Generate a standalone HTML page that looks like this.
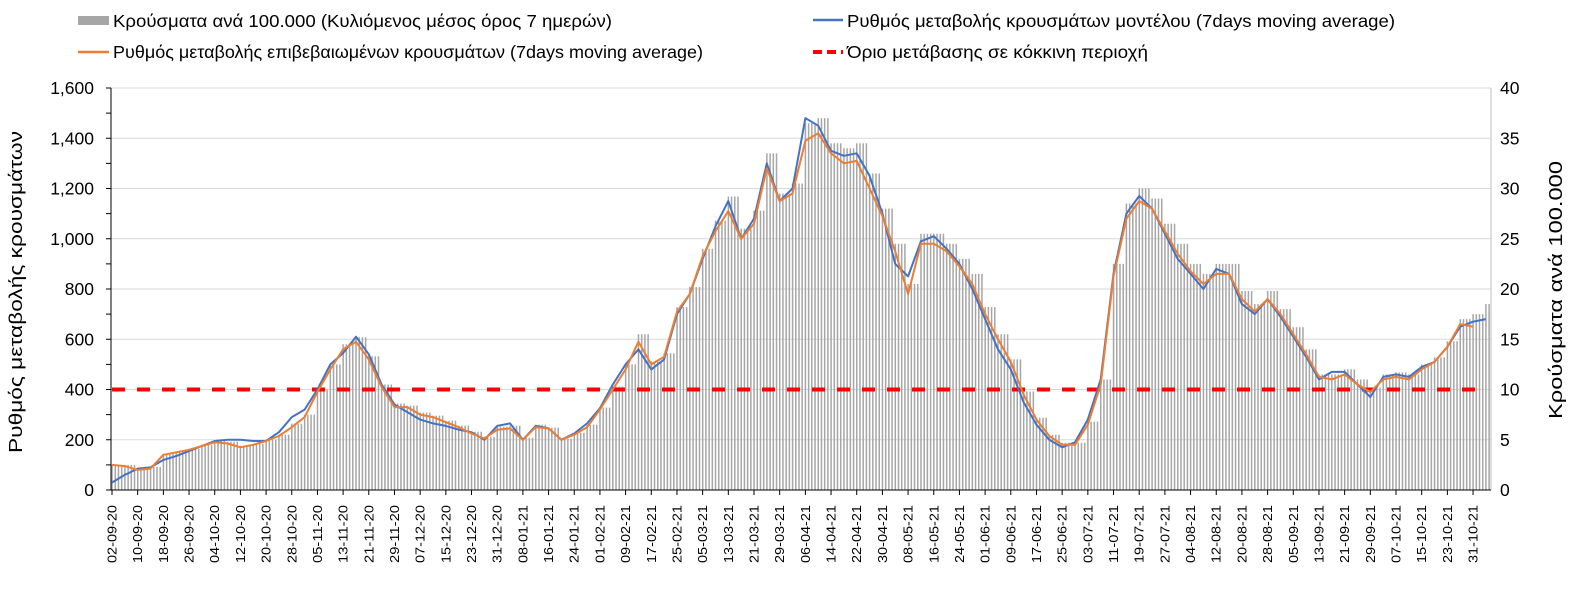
<!DOCTYPE html>
<html><head><meta charset="utf-8"><style>
body{margin:0;background:#fff;}
svg text{font-family:"Liberation Sans",sans-serif;fill:#000;}
</style></head><body>
<svg id="chart" width="1576" height="590" xmlns="http://www.w3.org/2000/svg">
<g id="legend">
 <g><rect x="78" y="16" width="31" height="9" fill="#a6a6a6"/><text x="113" y="27" font-size="17.5" textLength="499" lengthAdjust="spacingAndGlyphs">Κρούσματα ανά 100.000 (Κυλιόμενος μέσος όρος 7 ημερών)</text></g>
 <g><line x1="813" y1="20" x2="843" y2="20" stroke="#4472c4" stroke-width="2.5"/><text x="847" y="27" font-size="17.5" textLength="548" lengthAdjust="spacingAndGlyphs">Ρυθμός μεταβολής κρουσμάτων μοντέλου (7days moving average)</text></g>
 <g><line x1="78" y1="52" x2="109" y2="52" stroke="#ed7d31" stroke-width="2.5"/><text x="113" y="58" font-size="17.5" textLength="590" lengthAdjust="spacingAndGlyphs">Ρυθμός μεταβολής επιβεβαιωμένων κρουσμάτων (7days moving average)</text></g>
 <g><line x1="813" y1="52" x2="843" y2="52" stroke="#ff0000" stroke-width="4" stroke-dasharray="9,5"/><text x="847" y="58" font-size="17.5" textLength="301" lengthAdjust="spacingAndGlyphs">Όριο μετάβασης σε κόκκινη περιοχή</text></g>
</g>
<g id="grid"></g>
<g id="bars"></g>
<g id="lines"></g>
<g id="axes"></g>
<text transform="translate(22,292) rotate(-90)" text-anchor="middle" font-size="18" textLength="322" lengthAdjust="spacingAndGlyphs">Ρυθμός μεταβολής κρουσμάτων</text>
<text transform="translate(1562,290) rotate(-90)" text-anchor="middle" font-size="18" textLength="258" lengthAdjust="spacingAndGlyphs">Κρούσματα ανά 100.000</text>
</svg>
<script>
const stepDays = 4;
const modelRate = [30,60,85,90,120,135,155,175,195,200,200,195,195,230,290,320,400,500,545,610,540,420,340,310,280,265,255,240,230,200,255,265,200,255,245,200,225,265,325,420,500,560,480,520,700,780,920,1050,1150,1000,1080,1300,1150,1200,1480,1450,1350,1330,1340,1250,1100,900,850,990,1010,960,900,800,680,560,480,350,260,200,170,190,280,440,860,1100,1170,1120,1020,920,860,800,880,860,740,700,760,690,610,530,440,470,470,420,370,450,460,450,490,510,570,650,670,680];
const confirmedRate = [100,95,80,85,140,150,160,175,190,185,170,180,195,215,250,290,390,480,560,590,520,410,330,330,300,290,270,250,225,205,240,245,200,250,245,200,220,250,320,400,480,590,500,530,710,780,930,1030,1110,1000,1060,1280,1150,1180,1390,1420,1340,1300,1310,1200,1090,950,780,980,980,950,890,820,700,600,510,380,280,215,180,180,260,420,850,1080,1150,1120,1030,940,870,820,860,860,760,710,760,700,620,540,450,440,460,420,390,440,450,440,480,510,570,660,650,null];
const casesPer100k = [2.5,2.5,2.2,2.3,3.6,3.8,4.1,4.5,4.9,4.8,4.4,4.6,5,5.5,6.6,7.5,10,12.5,14.5,15.2,13.3,10.5,8.6,8.4,7.7,7.4,6.9,6.4,5.8,5.3,6.3,6.4,5.2,6.5,6.2,5.1,5.7,6.5,8.2,10.3,12.5,15.5,12.8,13.6,18.2,20.2,24,26.8,29.2,26,27.8,33.5,29.5,30.5,36.5,37,34.5,34,34.5,31.5,28,24.5,20.5,25.5,25.5,24.5,23,21.5,18.2,15.5,13,9.8,7.2,5.5,4.7,4.7,6.8,11,22.5,28.5,30,29,26.5,24.5,22.5,21.5,22.5,22.5,19.8,18.5,19.8,18,16.2,14,11.5,11.5,12,11,10.2,11.5,11.7,11.5,12.5,13.2,14.8,17,17.5,18.5];
const leftTicks = [0,200,400,600,800,1000,1200,1400,1600];
const rightTicks = [0,5,10,15,20,25,30,35,40];
const dateLabels = ["02-09-20","10-09-20","18-09-20","26-09-20","04-10-20","12-10-20","20-10-20","28-10-20","05-11-20","13-11-20","21-11-20","29-11-20","07-12-20","15-12-20","23-12-20","31-12-20","08-01-21","16-01-21","24-01-21","01-02-21","09-02-21","17-02-21","25-02-21","05-03-21","13-03-21","21-03-21","29-03-21","06-04-21","14-04-21","22-04-21","30-04-21","08-05-21","16-05-21","24-05-21","01-06-21","09-06-21","17-06-21","25-06-21","03-07-21","11-07-21","19-07-21","27-07-21","04-08-21","12-08-21","20-08-21","28-08-21","05-09-21","13-09-21","21-09-21","29-09-21","07-10-21","15-10-21","23-10-21","31-10-21"];
const redThreshold = 400;

const NS="http://www.w3.org/2000/svg";
const X0=112, PXD=3.21, Y0=490, YT=88, XR=1491;
const xDay=d=>X0+d*PXD;
const yL=v=>Y0-(v/1600)*(Y0-YT);
const yR=v=>Y0-(v/40)*(Y0-YT);
function mk(tag,attrs,parent){const e=document.createElementNS(NS,tag);for(const k in attrs)e.setAttribute(k,attrs[k]);parent.appendChild(e);return e;}
const grid=document.getElementById('grid'),bars=document.getElementById('bars'),lines=document.getElementById('lines'),axes=document.getElementById('axes');
leftTicks.forEach((t,i)=>{
 if(t>0){const g=mk('line',{x1:X0-1,x2:XR,y1:yL(t),y2:yL(t),stroke:'#d9d9d9','stroke-width':1},grid);
 
 }
 const tx=mk('text',{x:94,y:yL(t)+6,'text-anchor':'end','font-size':17.5},axes);tx.textContent=t.toLocaleString('en-US');
 
 
});
rightTicks.forEach(t=>{
 const tx=mk('text',{x:1500,y:yR(t)+6,'text-anchor':'start','font-size':17.5},axes);tx.textContent=t;
 
 
});
casesPer100k.forEach((v,i)=>{
 for(let k=0;k<stepDays;k++){
  const d=i*stepDays+k; if(d>429)break;
  const r=mk('rect',{x:xDay(d)-0.7,y:yR(v),width:1.5,height:Y0-yR(v),fill:'#a6a6a6'},bars);
  
  
 }
});
const th=mk('line',{x1:X0,x2:1482,y1:yL(redThreshold),y2:yL(redThreshold),stroke:'#ff0000','stroke-width':4,'stroke-dasharray':'13,12'},lines);


function path(arr,color,name){
 let d='';arr.forEach((v,i)=>{if(v==null)return;d+=(d?'L':'M')+xDay(i*stepDays).toFixed(1)+','+yL(v).toFixed(1);});
 const p=mk('path',{d:d,fill:'none',stroke:color,'stroke-width':2,'stroke-linejoin':'round'},lines);
 
 
}
path(modelRate,'#4472c4','model-rate-line');
path(confirmedRate,'#ed7d31','confirmed-rate-line');
mk('line',{x1:111,x2:111,y1:YT,y2:Y0,stroke:'#000','stroke-width':1},axes);
mk('line',{x1:XR,x2:XR,y1:YT,y2:Y0,stroke:'#bfbfbf','stroke-width':1},axes);
mk('line',{x1:111,x2:XR,y1:Y0,y2:Y0,stroke:'#000','stroke-width':1},axes);
for(let v=0;v<=1600;v+=100){mk('line',{x1:106,x2:111,y1:yL(v),y2:yL(v),stroke:'#000','stroke-width':1},axes);}
dateLabels.forEach((lab,i)=>{
 const x=xDay(i*8);
 mk('line',{x1:x,x2:x,y1:Y0,y2:Y0+5,stroke:'#000','stroke-width':1},axes);
 const tx=mk('text',{transform:`translate(${x+4.5},${505}) rotate(-90)`,'text-anchor':'end','font-size':13,textLength:58,lengthAdjust:'spacingAndGlyphs'},axes);
 tx.textContent=lab;
 
 
});
</script>
</body></html>
